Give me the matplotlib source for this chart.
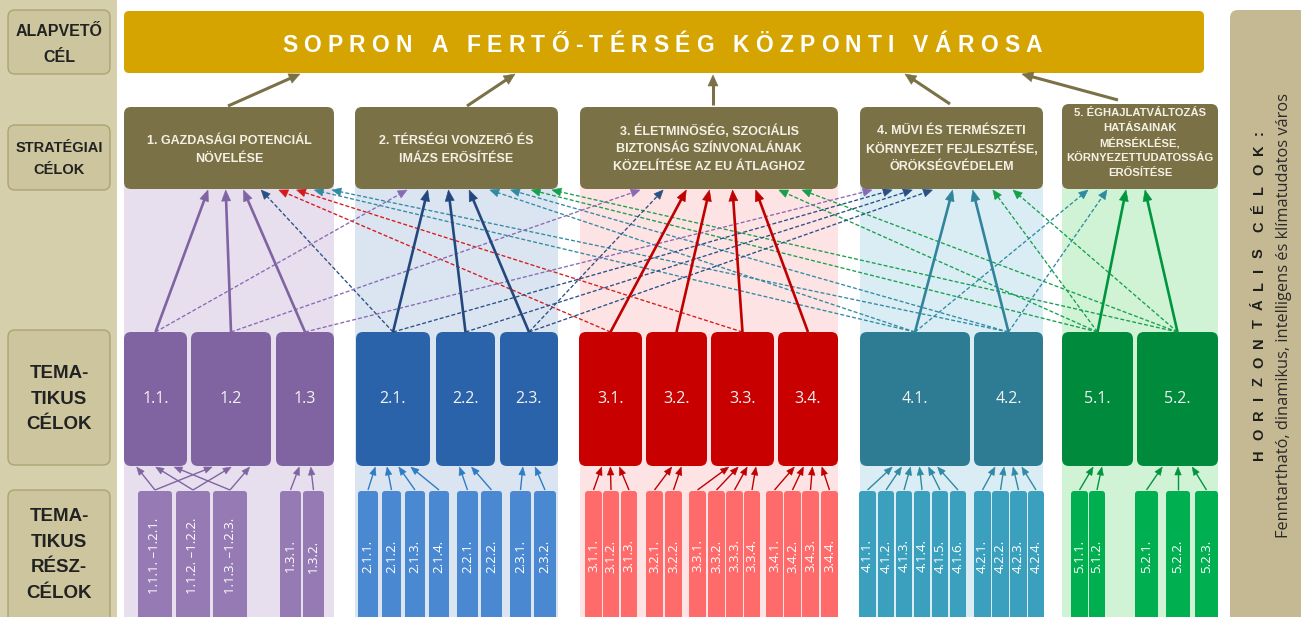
import re
import math
import matplotlib
matplotlib.use("Agg")
import matplotlib.pyplot as plt
from matplotlib.patches import FancyBboxPatch, Rectangle, Polygon
from matplotlib.font_manager import FontProperties

W, H = 1301, 617

# ---- content ----
top_goal = "SOPRON A FERTŐ-TÉRSÉG KÖZPONTI VÁROSA"
row_labels = ["ALAPVETŐ\nCÉL", "STRATÉGIAI\nCÉLOK", "TEMA-\nTIKUS\nCÉLOK", "TEMA-\nTIKUS\nRÉSZ-\nCÉLOK"]
strat_labels = [
    "1. GAZDASÁGI POTENCIÁL\nNÖVELÉSE",
    "2. TÉRSÉGI VONZERŐ ÉS\nIMÁZS ERŐSÍTÉSE",
    "3. ÉLETMINŐSÉG, SZOCIÁLIS\nBIZTONSÁG SZÍNVONALÁNAK\nKÖZELÍTÉSE AZ EU ÁTLAGHOZ",
    "4. MŰVI ÉS TERMÉSZETI\nKÖRNYEZET FEJLESZTÉSE,\nÖRÖKSÉGVÉDELEM",
    "5. ÉGHAJLATVÁLTOZÁS\nHATÁSAINAK\nMÉRSÉKLÉSE,\nKÖRNYEZETTUDATOSSÁG\nERŐSÍTÉSE",
]
themes = [["1.1.", "1.2", "1.3"],
          ["2.1.", "2.2.", "2.3."],
          ["3.1.", "3.2.", "3.3.", "3.4."],
          ["4.1.", "4.2."],
          ["5.1.", "5.2."]]
subs = [["1.1.1. –1.2.1.", "1.1.2. –1.2.2.", "1.1.3. –1.2.3.", "1.3.1.", "1.3.2."],
        ["2.1.1.", "2.1.2.", "2.1.3.", "2.1.4.", "2.2.1.", "2.2.2.", "2.3.1.", "2.3.2."],
        ["3.1.1.", "3.1.2.", "3.1.3.", "3.2.1.", "3.2.2.", "3.3.1.", "3.3.2.", "3.3.3.", "3.3.4.",
         "3.4.1.", "3.4.2.", "3.4.3.", "3.4.4."],
        ["4.1.1.", "4.1.2.", "4.1.3.", "4.1.4.", "4.1.5.", "4.1.6.", "4.2.1.", "4.2.2.", "4.2.3.", "4.2.4."],
        ["5.1.1.", "5.1.2.", "5.2.1.", "5.2.2.", "5.2.3."]]
# dashed links: (thematic goal, strategic goal number)
cross_links = [("1.1.", 2), ("1.2", 3), ("1.3", 4),
               ("2.1.", 1), ("2.3.", 3), ("2.1.", 4), ("2.2.", 4), ("2.3.", 4),
               ("3.1.", 1), ("3.3.", 1),
               ("4.1.", 1), ("4.2.", 1), ("4.1.", 2), ("4.2.", 2), ("4.1.", 5), ("4.2.", 5),
               ("5.1.", 2), ("5.2.", 2), ("5.1.", 3), ("5.2.", 3), ("5.1.", 4), ("5.2.", 4)]
horiz_title = "HORIZONTÁLIS CÉLOK:"
horiz_text = "Fenntartható, dinamikus, intelligens és klímatudatos város"

# ---- layout ----
strat_x = [(124, 334), (355, 558), (580, 838), (860, 1043), (1062, 1218)]
theme_x = [[(124, 187), (191, 271), (276, 334)],
           [(356, 430), (436, 495), (500, 558)],
           [(579, 642), (646, 707), (711, 774), (778, 838)],
           [(860, 970), (974, 1043)],
           [(1062, 1133), (1137, 1218)]]
sub_x = [[(138, 172), (176, 210), (213, 247), (280, 301), (303, 324)],
         [(358, 378), (382, 401), (405, 425), (429, 449), (457, 478), (481, 502), (510, 531), (534, 556)],
         [(585, 602), (603, 619), (621, 637), (646, 663), (665, 682), (689, 706), (708, 725), (726, 743),
          (744, 760), (766, 783), (784, 801), (802, 819), (821, 838)],
         [(859, 876), (878, 894), (896, 912), (914, 930), (932, 948), (950, 966), (974, 991), (992, 1009),
          (1010, 1027), (1028, 1044)],
         [(1071, 1088), (1089, 1105), (1135, 1158), (1166, 1190), (1195, 1218)]]
head_span = [(208, 332), (407, 552), (640, 802), (872, 1013), (1088, 1145)]
banner_arrows = [((228, 106), (300, 74)), ((467, 106), (515, 74)), ((713, 105), (713, 75)),
                 ((950, 104), (905, 74)), ((1118, 100), (1022, 74))]

theme_fc = ["#8063a1", "#2b63aa", "#c80000", "#2e7c93", "#008a3c"]
sub_fc = ["#957ab4", "#4a89d1", "#ff6b6b", "#3ba0bd", "#00b050"]
bg_fc = ["#e7dfed", "#dbe5f1", "#fde3e3", "#daedf4", "#d0f3d5"]
solid_c = ["#8064a2", "#24487e", "#c00000", "#31849b", "#00953f"]
dash_c = ["#8a68b5", "#2b4f85", "#d41a1a", "#2f8ba3", "#16a04c"]
small_c = ["#8064a2", "#2e7cc4", "#c00000", "#2f8aa3", "#00953f"]
olive = "#7b7147"

fig = plt.figure(figsize=(W / 100, H / 100), dpi=100)
ax = fig.add_axes([0, 0, 1, 1])
ax.set_xlim(0, W)
ax.set_ylim(H, 0)
ax.axis("off")
rend = fig.canvas.get_renderer()


def rbox(x0, y0, x1, y1, fc, r=6, ec="none", lw=0, z=2):
    ax.add_patch(FancyBboxPatch((x0, y0), x1 - x0, y1 - y0,
                                boxstyle=f"round,pad=0,rounding_size={r}",
                                fc=fc, ec=ec, lw=lw, zorder=z))


def arrow(src, dst, color, lw, dashed=False, hl=9, hw=7, z=3):
    sx, sy = src
    dx, dy = dst
    L = math.hypot(dx - sx, dy - sy)
    ux, uy = (dx - sx) / L, (dy - sy) / L
    bx, by = dx - ux * hl, dy - uy * hl
    ls = (0, (3, 1.6)) if dashed else "-"
    ax.plot([sx, bx + ux * 2], [sy, by + uy * 2], color=color, lw=lw, ls=ls,
            solid_capstyle="butt", zorder=z)
    px, py = -uy, ux
    tri = [(dx, dy), (bx + px * hw / 2, by + py * hw / 2), (bx - px * hw / 2, by - py * hw / 2)]
    ax.add_patch(Polygon(tri, closed=True, fc=color, ec=color, lw=0.4, zorder=z))


def lines(x, yc, text, pitch, **kw):
    # one text object per line, evenly pitched around yc
    parts = text.split("\n")
    for k, p in enumerate(parts):
        y = yc + (k - (len(parts) - 1) / 2) * pitch
        ax.text(x, y, p, ha="center", va="center_baseline", **kw)


def spaced(x, y, s, fp, length, color, vertical=False):
    # letter-spaced text: each glyph placed on its own
    widths = []
    for ch in s:
        if ch == " ":
            widths.append(fp.get_size_in_points() * 100 / 72 * 0.3)
        else:
            t = ax.text(0, 0, ch, fontproperties=fp)
            widths.append(t.get_window_extent(rend).width)
            t.remove()
    gap = (length - sum(widths)) / (len(s) - 1)
    pos = -length / 2
    for ch, w in zip(s, widths):
        c = pos + w / 2
        if ch != " ":
            if vertical:
                ax.text(x, y - c, ch, rotation=90, rotation_mode="anchor", ha="center",
                        va="baseline", fontproperties=fp, color=color, zorder=6)
            else:
                ax.text(x + c, y, ch, ha="center", va="baseline", fontproperties=fp,
                        color=color, zorder=6)
        pos += w + gap


# left band with row labels
ax.add_patch(Rectangle((-5, -5), 122, H + 10, fc="#d6cfac", ec="none", zorder=0.5))
label_boxes = [(10, 74), (125, 190), (330, 465), (490, 630)]
label_centers = [43, 158, 397, 553]
label_sizes = [11.5, 10.5, 13.5, 13.5]
label_pitch = [25, 22, 25.5, 25.5]
for (y0, y1), yc, txt, fs, pitch in zip(label_boxes, label_centers, row_labels, label_sizes, label_pitch):
    rbox(8, y0, 110, y1, "#cdc59d", r=7, ec="#ada372", lw=1.0, z=1)
    lines(59, yc, txt, pitch, family="Liberation Sans", weight="bold", fontsize=fs,
          color="#222222", zorder=6)

# right panel
rbox(1230, 10, 1320, 640, "#c5b994", r=8, z=1)
spaced(1263, 295, horiz_title.replace("", " ").strip().replace("   ", "  "),
       FontProperties(family="Liberation Sans", weight="bold", size=10.5), 330, "#1e1e1e",
       vertical=True)
ax.text(1288, 315, horiz_text, rotation=90, rotation_mode="anchor", ha="center", va="baseline",
        family="Open Sans", fontsize=11.8, color="#2a2a2a", zorder=6)

# banner
rbox(124, 11, 1204, 73, "#d6a400", r=5, z=2)
spaced(662, 52, top_goal, FontProperties(family="Liberation Sans", weight="bold", size=16.5),
       760, "white")

# column backgrounds and strategic boxes
for i, (x0, x1) in enumerate(strat_x):
    ax.add_patch(Rectangle((x0, 150), x1 - x0, H, fc=bg_fc[i], ec="none", zorder=0.5))
    y0 = 104 if i == 4 else 107
    rbox(x0, y0, x1, 189, olive, r=7, z=4)
    if i < 4:
        lines((x0 + x1) / 2, 148, strat_labels[i], 18, family="Liberation Sans", weight="bold",
              fontsize=9, color="#f4f1e4", zorder=5)
    else:
        lines((x0 + x1) / 2, 142, strat_labels[i], 15, family="Liberation Sans", weight="bold",
              fontsize=8.1, color="#f4f1e4", zorder=5)

for (src, dst) in banner_arrows:
    arrow(src, dst, olive, 2.2, hl=11, hw=10, z=3)

# thematic boxes
theme_center = {}
TOP, BOT = 332, 466
for g, names in enumerate(themes):
    for name, (x0, x1) in zip(names, theme_x[g]):
        rbox(x0, TOP, x1, BOT, theme_fc[g], r=7, z=2)
        ax.text((x0 + x1) / 2, 399, name, ha="center", va="center", family="Open Sans",
                fontsize=11.5, color="#f2f2f2", zorder=5)
        theme_center[name] = ((x0 + x1) / 2, g)

# sub-goal boxes and small arrows
SUB_TOP = 491
for g, names in enumerate(subs):
    incoming = {}
    for name, (x0, x1) in zip(names, sub_x[g]):
        rbox(x0, SUB_TOP, x1, H + 20, sub_fc[g], r=3, z=2)
        xc = (x0 + x1) / 2
        ax.text(xc, 556, name, rotation=90, ha="center", va="center", family="Open Sans",
                fontsize=9.5, color="white", zorder=5)
        for a, b in re.findall(r"(\d)\.(\d)\.\d\.", name):
            tname = themes[g][int(b) - 1]
            incoming.setdefault(tname, []).append(xc)
    for tname, srcs in incoming.items():
        tc = theme_center[tname][0]
        m = sum(srcs) / len(srcs)
        for s in srcs:
            arrow((s, SUB_TOP - 1), (tc + 0.5 * (s - m), BOT + 1), small_c[g], 1.0, hl=8, hw=6.5)

# strategic arrows: solid from own themes, dashed cross links
for si in range(5):
    inc = [(theme_center[n][0], n, False) for n in themes[si]]
    inc += [(theme_center[n][0], n, True) for n, s in cross_links if s == si + 1]
    inc.sort()
    a, b = head_span[si]
    n = len(inc)
    for k, (sx, name, dashed) in enumerate(inc):
        hx = a + (b - a) * k / (n - 1)
        g = theme_center[name][1]
        if dashed:
            arrow((sx, TOP), (hx, 190), dash_c[g], 0.95, dashed=True, hl=9, hw=8, z=3)
        else:
            arrow((sx, TOP), (hx, 190), solid_c[g], 1.9, hl=11, hw=9, z=3.2)

fig.savefig("out.png", dpi=100)
